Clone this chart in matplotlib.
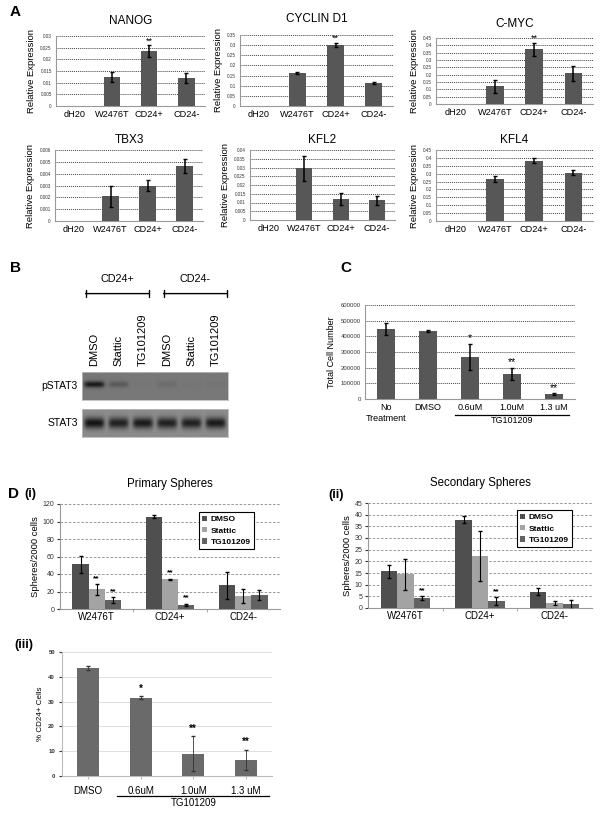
import matplotlib
matplotlib.use('Agg')
import matplotlib.pyplot as plt
import numpy as np
from matplotlib.ticker import MultipleLocator, FormatStrFormatter
from matplotlib.transforms import blended_transform_factory

plt.rcParams['font.family'] = ['Liberation Sans', 'DejaVu Sans']

W, H = 601, 815

# ---- panel A data ----
a_cats = ['dH20', 'W2476T', 'CD24+', 'CD24-']
nanog_vals = [0, 0.0125, 0.0235, 0.012]
nanog_err = [0, 0.002, 0.0025, 0.002]
cyclin_vals = [0, 0.163, 0.302, 0.112]
cyclin_err = [0, 0.005, 0.01, 0.005]
cmyc_vals = [0, 0.122, 0.372, 0.21]
cmyc_err = [0, 0.045, 0.045, 0.05]
tbx3_vals = [0, 0.0021, 0.003, 0.00465]
tbx3_err = [0, 0.0009, 0.0005, 0.0006]
kfl2_vals = [0, 0.0295, 0.012, 0.0112]
kfl2_err = [0, 0.0073, 0.0035, 0.0024]
kfl4_vals = [0, 0.266, 0.383, 0.307]
kfl4_err = [0, 0.02, 0.018, 0.014]

# ---- panel B data (band intensities per lane) ----
blot_lanes = ['DMSO', 'Stattic', 'TG101209', 'DMSO', 'Stattic', 'TG101209']
pstat3_int = [0.95, 0.3, 0.02, 0.12, 0.03, 0.05]
stat3_int = [1.0, 0.9, 0.95, 0.9, 0.9, 0.95]

# ---- panel C data ----
c_cats = ['No\nTreatment', 'DMSO', '0.6uM', '1.0uM', '1.3 uM']
c_vals = [447000, 434000, 270000, 160000, 32000]
c_err = [37000, 5000, 83000, 40000, 5000]
c_stars = ['', '', '*', '**', '**']

# ---- panel D data ----
d_groups = ['W2476T', 'CD24+', 'CD24-']
d_series = ['DMSO', 'Stattic', 'TG101209']
d_colors = ['#4f4f4f', '#a3a3a3', '#626262']
prim_dmso = [51, 105.5, 27]
prim_dmso_err = [10, 1.5, 15]
prim_stattic = [22.5, 34, 15]
prim_stattic_err = [6, 0.5, 8]
prim_tg = [10.3, 5, 16]
prim_tg_err = [3, 1, 6]
prim_stars = [['', '', ''], ['**', '**', ''], ['**', '**', '']]
sec_dmso = [15.7, 37.8, 6.9]
sec_dmso_err = [2.8, 1.5, 1.5]
sec_stattic = [14.4, 22.3, 2.3]
sec_stattic_err = [6.5, 10.7, 0.8]
sec_tg = [4.4, 2.9, 1.6]
sec_tg_err = [0.8, 1.7, 2.0]
sec_stars = [['', '', ''], ['', '', ''], ['**', '**', '']]

e_cats = ['DMSO', '0.6uM', '1.0uM', '1.3 uM']
e_vals = [43.5, 31.5, 9.0, 6.6]
e_err = [0.8, 0.6, 7.0, 4.0]
e_stars = ['', '*', '**', '**']


def px(l, t, r, b):
    return [l / W, 1 - b / H, (r - l) / W, (b - t) / H]


fig = plt.figure(figsize=(W / 100, H / 100), dpi=100)


def expr_panel(box, title, vals, err, step, top, tpad):
    ax = fig.add_axes(px(*box))
    x = np.arange(len(a_cats))
    ax.bar(x, vals, 0.44, color='#575757', zorder=3)
    ax.errorbar(x[1:], vals[1:], yerr=err[1:], fmt='none', ecolor='black',
                elinewidth=1.1, capsize=1.2, zorder=4)
    ax.set_xlim(-0.5, 3.5)
    ax.set_ylim(0, top)
    ax.yaxis.set_major_locator(MultipleLocator(step))
    ax.yaxis.set_major_formatter(FormatStrFormatter('%g'))
    ax.grid(axis='y', color='#444444', linestyle=(0, (1, 1)), linewidth=0.7, zorder=0)
    ax.set_xticks(x)
    ax.set_xticklabels(a_cats)
    ax.tick_params(axis='y', labelsize=3.3, length=0, pad=3, colors='#333333')
    ax.tick_params(axis='x', labelsize=6.6, length=0, pad=3)
    for s in ['top', 'right']:
        ax.spines[s].set_visible(False)
    ax.spines['left'].set_color('#999999')
    ax.spines['bottom'].set_color('#999999')
    ax.set_ylabel('Relative Expression', fontsize=6.8, labelpad=3)
    ax.set_title(title, fontsize=8.5, pad=tpad)
    return ax


expr_panel((56, 36, 205, 106), 'NANOG', nanog_vals, nanog_err, 0.005, 0.03, 9).text(
    2, nanog_vals[2] + nanog_err[2], '**', ha='center', va='bottom', fontsize=6.5)
expr_panel((240, 35, 393, 106), 'CYCLIN D1', cyclin_vals, cyclin_err, 0.05, 0.35, 9).text(
    2, cyclin_vals[2] + cyclin_err[2], '**', ha='center', va='bottom', fontsize=6.5)
expr_panel((436, 38, 593, 104), 'C-MYC', cmyc_vals, cmyc_err, 0.05, 0.45, 8).text(
    2, cmyc_vals[2] + cmyc_err[2], '**', ha='center', va='bottom', fontsize=6.5)
expr_panel((55, 150, 203, 221), 'TBX3', tbx3_vals, tbx3_err, 0.001, 0.006, 5)
expr_panel((250, 150, 395, 220), 'KFL2', kfl2_vals, kfl2_err, 0.005, 0.04, 5)
expr_panel((436, 150, 593, 221), 'KFL4', kfl4_vals, kfl4_err, 0.05, 0.45, 5)


# ---- panel B: western blot ----
def blot_strip(box, intens, bg, yc, sig, label):
    ax = fig.add_axes(px(*box))
    xs = np.linspace(0, 6, 400)
    ys = np.linspace(0, 1, 80)
    X, Y = np.meshgrid(xs, ys)
    img = np.full(X.shape, bg)
    for i, v in enumerate(intens):
        lane = np.exp(-((X - (i + 0.5)) / 0.42) ** 6)
        band = np.exp(-((Y - yc) / sig) ** 2)
        img -= v * lane * band * (bg - 0.08)
    ax.imshow(img, extent=[0, 6, 0, 1], origin='lower', cmap='gray',
              vmin=0, vmax=1, aspect='auto', interpolation='bilinear')
    ax.set_xticks([])
    ax.set_yticks([])
    for s in ax.spines.values():
        s.set_color('#bbbbbb')
        s.set_linewidth(0.6)
    ax.set_ylabel(label, rotation=0, ha='right', va='center', fontsize=7.5, labelpad=3)
    return ax


bp = blot_strip((82, 372, 228, 400), pstat3_int, 0.47, 0.54, 0.11, 'pSTAT3')
bs = blot_strip((82, 409, 228, 437), stat3_int, 0.55, 0.5, 0.2, 'STAT3')
bt = blended_transform_factory(bp.transData, bp.transAxes)
for i, name in enumerate(blot_lanes):
    bp.text(i + 0.5, 1.2, name, rotation=90, ha='center', va='bottom',
            fontsize=8, transform=bt)
for g, (lo, hi) in zip(['CD24+', 'CD24-'], [(0.15, 2.75), (3.35, 5.95)]):
    bp.annotate('', xy=(lo, 3.8), xytext=(hi, 3.8), xycoords=bt, textcoords=bt,
                arrowprops=dict(arrowstyle='|-|, widthA=0.25, widthB=0.25',
                                lw=1.0, color='black', shrinkA=0, shrinkB=0))
    bp.text((lo + hi) / 2, 4.15, g, ha='center', va='bottom', fontsize=7.8,
            transform=bt)

# ---- panel C ----
axc = fig.add_axes(px(365, 305, 575, 399))
xc = np.arange(len(c_cats))
axc.bar(xc, c_vals, 0.45, color='#575757', zorder=3)
axc.errorbar(xc, c_vals, yerr=c_err, fmt='none', ecolor='black',
             elinewidth=1.1, capsize=1.5, zorder=4)
for i, s in enumerate(c_stars):
    if s:
        axc.text(i, c_vals[i] + c_err[i] + 3000, s, ha='center', va='bottom', fontsize=7.5)
axc.set_xlim(-0.5, 4.5)
axc.set_ylim(0, 600000)
axc.yaxis.set_major_locator(MultipleLocator(100000))
axc.grid(axis='y', color='#444444', linestyle=(0, (1, 1)), linewidth=0.7, zorder=0)
axc.set_xticks(xc)
axc.set_xticklabels(c_cats, va='top')
axc.tick_params(axis='y', labelsize=4.3, length=0, pad=3, colors='#333333')
axc.tick_params(axis='x', labelsize=6.5, length=0, pad=3)
for s in ['top', 'right']:
    axc.spines[s].set_visible(False)
axc.spines['left'].set_color('#999999')
axc.spines['bottom'].set_color('#999999')
axc.set_ylabel('Total Cell Number', fontsize=6.5, labelpad=3)
ct = blended_transform_factory(axc.transData, axc.transAxes)
axc.plot([1.65, 4.35], [-0.165, -0.165], color='black', lw=0.9,
         transform=ct, clip_on=False)
axc.text(3, -0.185, 'TG101209', ha='center', va='top', fontsize=6.5, transform=ct)


# ---- panel D (i), (ii) ----
def sphere_panel(box, title, series, errs, stars, top, step, leg_anchor):
    ax = fig.add_axes(px(*box))
    x = np.arange(len(d_groups))
    w = 0.22
    for k in range(3):
        xk = x + (k - 1) * w
        ax.bar(xk, series[k], w, color=d_colors[k], label=d_series[k], zorder=3)
        ax.errorbar(xk, series[k], yerr=errs[k], fmt='none', ecolor='black',
                    elinewidth=0.8, capsize=1.5, zorder=4)
        for j in range(3):
            if stars[k][j]:
                ax.text(xk[j], series[k][j] + errs[k][j] + top * 0.02, stars[k][j],
                        ha='center', va='bottom', fontsize=6, fontweight='bold')
    ax.set_xlim(-0.5, 2.5)
    ax.set_ylim(0, top)
    ax.yaxis.set_major_locator(MultipleLocator(step))
    ax.grid(axis='y', color='#888888', linestyle=(0, (3, 2)), linewidth=0.6, zorder=0)
    ax.set_xticks(x)
    ax.set_xticklabels(d_groups)
    ax.set_xticks([0.5, 1.5], minor=True)
    ax.tick_params(axis='y', labelsize=5, length=2, pad=2, colors='#333333')
    ax.tick_params(axis='x', which='major', labelsize=7, length=0, pad=2)
    ax.tick_params(axis='x', which='minor', length=2, color='#999999')
    for s in ['top', 'right']:
        ax.spines[s].set_visible(False)
    ax.spines['left'].set_color('#999999')
    ax.spines['bottom'].set_color('#999999')
    ax.set_ylabel('Spheres/2000 cells', fontsize=6.8, labelpad=2)
    ax.set_title(title, fontsize=8.3, pad=12)
    leg = ax.legend(loc='upper right', bbox_to_anchor=leg_anchor, fontsize=6,
                    handlelength=0.6, handleheight=0.6, handletextpad=0.4,
                    borderpad=0.4, labelspacing=0.45, fancybox=False,
                    edgecolor='black', framealpha=1)
    leg.get_frame().set_linewidth(0.8)
    for t in leg.get_texts():
        t.set_fontweight('bold')
    return ax


sphere_panel((60, 504, 280, 609), 'Primary Spheres',
             [prim_dmso, prim_stattic, prim_tg],
             [prim_dmso_err, prim_stattic_err, prim_tg_err],
             prim_stars, 120, 20, (0.9, 0.96))
sphere_panel((368, 503, 592, 608), 'Secondary Spheres',
             [sec_dmso, sec_stattic, sec_tg],
             [sec_dmso_err, sec_stattic_err, sec_tg_err],
             sec_stars, 45, 5, (0.93, 0.97))

# ---- panel D (iii) ----
axe = fig.add_axes(px(62, 652, 272, 776))
xe = np.arange(len(e_cats))
axe.bar(xe, e_vals, 0.42, color='#6a6a6a', zorder=3)
axe.errorbar(xe, e_vals, yerr=e_err, fmt='none', ecolor='#333333',
             elinewidth=0.6, capsize=1.5, zorder=4)
for i, s in enumerate(e_stars):
    if s:
        axe.text(i, e_vals[i] + e_err[i] + 1.2, s, ha='center', va='bottom',
                 fontsize=7, fontweight='bold')
axe.set_xlim(-0.5, 3.5)
axe.set_ylim(0, 50)
axe.yaxis.set_major_locator(MultipleLocator(10))
axe.grid(axis='y', color='#d9d9d9', linewidth=0.6, zorder=0)
axe.set_xticks(xe)
axe.set_xticklabels(e_cats)
axe.tick_params(axis='y', labelsize=4.3, length=2, pad=3, colors='#333333')
axe.tick_params(axis='x', labelsize=7, length=2, pad=5, color='#bbbbbb')
for lbl in axe.get_yticklabels():
    lbl.set_fontweight('bold')
for s in ['top', 'right']:
    axe.spines[s].set_visible(False)
axe.spines['left'].set_color('#bbbbbb')
axe.spines['bottom'].set_color('#bbbbbb')
axe.set_ylabel('% CD24+ Cells', fontsize=5.8, labelpad=3)
et = blended_transform_factory(axe.transData, axe.transAxes)
axe.plot([0.55, 3.45], [-0.165, -0.165], color='black', lw=0.9,
         transform=et, clip_on=False)
axe.text(2, -0.18, 'TG101209', ha='center', va='top', fontsize=7, transform=et)

# ---- panel letters ----
fig.text(10 / W, 1 - 12 / H, 'A', fontsize=11, fontweight='bold', va='center')
fig.text(10 / W, 1 - 268 / H, 'B', fontsize=11, fontweight='bold', va='center')
fig.text(340 / W, 1 - 268 / H, 'C', fontsize=11, fontweight='bold', va='center')
fig.text(8 / W, 1 - 494 / H, 'D', fontsize=11, fontweight='bold', va='center')
fig.text(24 / W, 1 - 494 / H, '(i)', fontsize=9, fontweight='bold', va='center')
fig.text(328 / W, 1 - 495 / H, '(ii)', fontsize=9, fontweight='bold', va='center')
fig.text(14 / W, 1 - 645 / H, '(iii)', fontsize=9, fontweight='bold', va='center')

fig.savefig('out.png', dpi=100)
